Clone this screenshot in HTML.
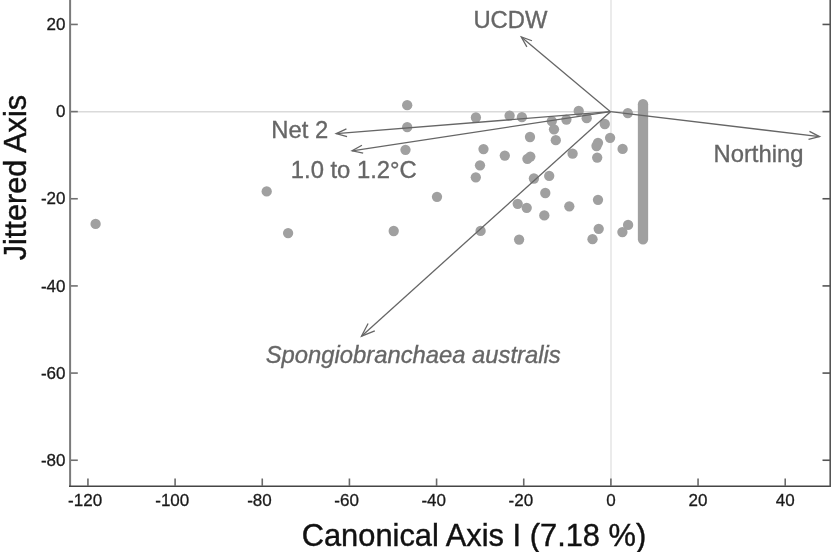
<!DOCTYPE html>
<html><head><meta charset="utf-8"><title>Plot</title>
<style>html,body{margin:0;padding:0;background:#fff;width:833px;height:552px;overflow:hidden}svg{display:block}</style>
</head><body>
<svg width="833" height="552" viewBox="0 0 833 552"><rect width="833" height="552" fill="#fff"/><line x1="71" y1="111.8" x2="829" y2="111.8" stroke="#dadada" stroke-width="1.5"/><line x1="611" y1="0" x2="611" y2="485" stroke="#e9e9e9" stroke-width="1.8"/><circle cx="95.6" cy="223.9" r="5.15" fill="#a0a0a0"/><circle cx="266.7" cy="191.4" r="5.15" fill="#a0a0a0"/><circle cx="288.1" cy="233.1" r="5.15" fill="#a0a0a0"/><circle cx="393.7" cy="231" r="5.15" fill="#a0a0a0"/><circle cx="407.2" cy="105.2" r="5.15" fill="#a0a0a0"/><circle cx="407.2" cy="127.2" r="5.15" fill="#a0a0a0"/><circle cx="405.5" cy="149.8" r="5.15" fill="#a0a0a0"/><circle cx="437" cy="196.8" r="5.15" fill="#a0a0a0"/><circle cx="475.9" cy="117.5" r="5.15" fill="#a0a0a0"/><circle cx="480" cy="165.3" r="5.15" fill="#a0a0a0"/><circle cx="475.8" cy="177.3" r="5.15" fill="#a0a0a0"/><circle cx="483.5" cy="149.1" r="5.15" fill="#a0a0a0"/><circle cx="480.6" cy="230.9" r="5.15" fill="#a0a0a0"/><circle cx="504.8" cy="155.6" r="5.15" fill="#a0a0a0"/><circle cx="509.6" cy="115.7" r="5.15" fill="#a0a0a0"/><circle cx="521.9" cy="117.2" r="5.15" fill="#a0a0a0"/><circle cx="530" cy="137" r="5.15" fill="#a0a0a0"/><circle cx="527.4" cy="158.8" r="5.15" fill="#a0a0a0"/><circle cx="530.3" cy="156.6" r="5.15" fill="#a0a0a0"/><circle cx="533.9" cy="178.5" r="5.15" fill="#a0a0a0"/><circle cx="517.7" cy="203.8" r="5.15" fill="#a0a0a0"/><circle cx="526.7" cy="207.8" r="5.15" fill="#a0a0a0"/><circle cx="519.1" cy="239.6" r="5.15" fill="#a0a0a0"/><circle cx="544.3" cy="215.4" r="5.15" fill="#a0a0a0"/><circle cx="545.3" cy="193" r="5.15" fill="#a0a0a0"/><circle cx="549.2" cy="175.9" r="5.15" fill="#a0a0a0"/><circle cx="551.8" cy="121.1" r="5.15" fill="#a0a0a0"/><circle cx="554" cy="129.3" r="5.15" fill="#a0a0a0"/><circle cx="555.8" cy="140.2" r="5.15" fill="#a0a0a0"/><circle cx="566.4" cy="119.6" r="5.15" fill="#a0a0a0"/><circle cx="572.6" cy="153.7" r="5.15" fill="#a0a0a0"/><circle cx="569.3" cy="206.3" r="5.15" fill="#a0a0a0"/><circle cx="578.7" cy="110.9" r="5.15" fill="#a0a0a0"/><circle cx="586.7" cy="118.2" r="5.15" fill="#a0a0a0"/><circle cx="598" cy="142.8" r="5.15" fill="#a0a0a0"/><circle cx="596.5" cy="146" r="5.15" fill="#a0a0a0"/><circle cx="597.2" cy="157.6" r="5.15" fill="#a0a0a0"/><circle cx="598" cy="199.8" r="5.15" fill="#a0a0a0"/><circle cx="598.7" cy="228.8" r="5.15" fill="#a0a0a0"/><circle cx="592.5" cy="239.2" r="5.15" fill="#a0a0a0"/><circle cx="604.8" cy="124" r="5.15" fill="#a0a0a0"/><circle cx="610.1" cy="137.8" r="5.15" fill="#a0a0a0"/><circle cx="622.6" cy="148.9" r="5.15" fill="#a0a0a0"/><circle cx="627.8" cy="113.1" r="5.15" fill="#a0a0a0"/><circle cx="628.1" cy="224.9" r="5.15" fill="#a0a0a0"/><circle cx="622.4" cy="232.1" r="5.15" fill="#a0a0a0"/><rect x="637.85" y="99" width="10.3" height="145.5" rx="5.15" ry="5.15" fill="#a0a0a0"/><line x1="610.5" y1="111.7" x2="521.3" y2="37" stroke="#666666" stroke-width="1.3"/><polyline points="526.87,46.83 521.3,37 531.96,40.76" fill="none" stroke="#666666" stroke-width="1.3"/><line x1="610.5" y1="111.7" x2="336.2" y2="133.6" stroke="#666666" stroke-width="1.3"/><polyline points="347.07,136.70 336.2,133.6 346.44,128.81" fill="none" stroke="#666666" stroke-width="1.3"/><line x1="610.5" y1="111.7" x2="352.1" y2="150.8" stroke="#666666" stroke-width="1.3"/><polyline points="363.16,153.13 352.1,150.8 361.97,145.30" fill="none" stroke="#666666" stroke-width="1.3"/><line x1="610.5" y1="111.7" x2="819.5" y2="136.6" stroke="#666666" stroke-width="1.3"/><polyline points="809.46,131.42 819.5,136.6 808.52,139.28" fill="none" stroke="#666666" stroke-width="1.3"/><line x1="610.5" y1="111.7" x2="361.5" y2="336.2" stroke="#666666" stroke-width="1.3"/><polyline points="374.80,330.95 361.5,336.2 368.09,323.51" fill="none" stroke="#666666" stroke-width="1.3"/><text x="473.4" y="28" style="font-family:'Liberation Sans',Arial,sans-serif;font-size:23.8px" fill="#666" stroke="#666" stroke-width="0.35">UCDW</text><text x="271.3" y="137.5" style="font-family:'Liberation Sans',Arial,sans-serif;font-size:23.8px" fill="#666" stroke="#666" stroke-width="0.35">Net 2</text><text x="290.8" y="178" style="font-family:'Liberation Sans',Arial,sans-serif;font-size:23.8px" fill="#666" stroke="#666" stroke-width="0.35">1.0 to 1.2°C</text><text x="713.5" y="162.4" style="font-family:'Liberation Sans',Arial,sans-serif;font-size:23.8px" fill="#666" stroke="#666" stroke-width="0.35">Northing</text><text x="265.7" y="363.2" style="font-family:'Liberation Sans',Arial,sans-serif;font-size:23.8px;font-style:italic" fill="#666" stroke="#666" stroke-width="0.35">Spongiobranchaea australis</text><line x1="70.1" y1="0" x2="70.1" y2="486" stroke="#7b7b7b" stroke-width="2"/><line x1="69" y1="486.3" x2="831" y2="486.3" stroke="#454545" stroke-width="1.6"/><line x1="830.2" y1="0" x2="830.2" y2="487" stroke="#555" stroke-width="1.6"/><line x1="87.94" y1="478.5" x2="87.94" y2="486" stroke="#6a6a6a" stroke-width="1.6"/><text x="85.11" y="506.2" text-anchor="middle" style="font-family:'Liberation Sans',Arial,sans-serif;font-size:17px" fill="#1a1a1a" stroke="#1a1a1a" stroke-width="0.3">-120</text><line x1="175.10" y1="478.5" x2="175.10" y2="486" stroke="#6a6a6a" stroke-width="1.6"/><text x="172.27" y="506.2" text-anchor="middle" style="font-family:'Liberation Sans',Arial,sans-serif;font-size:17px" fill="#1a1a1a" stroke="#1a1a1a" stroke-width="0.3">-100</text><line x1="262.26" y1="478.5" x2="262.26" y2="486" stroke="#6a6a6a" stroke-width="1.6"/><text x="259.43" y="506.2" text-anchor="middle" style="font-family:'Liberation Sans',Arial,sans-serif;font-size:17px" fill="#1a1a1a" stroke="#1a1a1a" stroke-width="0.3">-80</text><line x1="349.42" y1="478.5" x2="349.42" y2="486" stroke="#6a6a6a" stroke-width="1.6"/><text x="346.59" y="506.2" text-anchor="middle" style="font-family:'Liberation Sans',Arial,sans-serif;font-size:17px" fill="#1a1a1a" stroke="#1a1a1a" stroke-width="0.3">-60</text><line x1="436.58" y1="478.5" x2="436.58" y2="486" stroke="#6a6a6a" stroke-width="1.6"/><text x="433.75" y="506.2" text-anchor="middle" style="font-family:'Liberation Sans',Arial,sans-serif;font-size:17px" fill="#1a1a1a" stroke="#1a1a1a" stroke-width="0.3">-40</text><line x1="523.74" y1="478.5" x2="523.74" y2="486" stroke="#6a6a6a" stroke-width="1.6"/><text x="520.91" y="506.2" text-anchor="middle" style="font-family:'Liberation Sans',Arial,sans-serif;font-size:17px" fill="#1a1a1a" stroke="#1a1a1a" stroke-width="0.3">-20</text><line x1="610.90" y1="478.5" x2="610.90" y2="486" stroke="#6a6a6a" stroke-width="1.6"/><text x="610.90" y="506.2" text-anchor="middle" style="font-family:'Liberation Sans',Arial,sans-serif;font-size:17px" fill="#1a1a1a" stroke="#1a1a1a" stroke-width="0.3">0</text><line x1="698.06" y1="478.5" x2="698.06" y2="486" stroke="#6a6a6a" stroke-width="1.6"/><text x="698.06" y="506.2" text-anchor="middle" style="font-family:'Liberation Sans',Arial,sans-serif;font-size:17px" fill="#1a1a1a" stroke="#1a1a1a" stroke-width="0.3">20</text><line x1="785.22" y1="478.5" x2="785.22" y2="486" stroke="#6a6a6a" stroke-width="1.6"/><text x="785.22" y="506.2" text-anchor="middle" style="font-family:'Liberation Sans',Arial,sans-serif;font-size:17px" fill="#1a1a1a" stroke="#1a1a1a" stroke-width="0.3">40</text><line x1="71" y1="460.24" x2="77.8" y2="460.24" stroke="#707070" stroke-width="1.6"/><line x1="822.5" y1="460.24" x2="830" y2="460.24" stroke="#555" stroke-width="1.6"/><text x="65.5" y="465.84" text-anchor="end" style="font-family:'Liberation Sans',Arial,sans-serif;font-size:17px" fill="#1a1a1a" stroke="#1a1a1a" stroke-width="0.3">-80</text><line x1="71" y1="373.08" x2="77.8" y2="373.08" stroke="#707070" stroke-width="1.6"/><line x1="822.5" y1="373.08" x2="830" y2="373.08" stroke="#555" stroke-width="1.6"/><text x="65.5" y="378.68" text-anchor="end" style="font-family:'Liberation Sans',Arial,sans-serif;font-size:17px" fill="#1a1a1a" stroke="#1a1a1a" stroke-width="0.3">-60</text><line x1="71" y1="285.92" x2="77.8" y2="285.92" stroke="#707070" stroke-width="1.6"/><line x1="822.5" y1="285.92" x2="830" y2="285.92" stroke="#555" stroke-width="1.6"/><text x="65.5" y="291.52" text-anchor="end" style="font-family:'Liberation Sans',Arial,sans-serif;font-size:17px" fill="#1a1a1a" stroke="#1a1a1a" stroke-width="0.3">-40</text><line x1="71" y1="198.76" x2="77.8" y2="198.76" stroke="#707070" stroke-width="1.6"/><line x1="822.5" y1="198.76" x2="830" y2="198.76" stroke="#555" stroke-width="1.6"/><text x="65.5" y="204.36" text-anchor="end" style="font-family:'Liberation Sans',Arial,sans-serif;font-size:17px" fill="#1a1a1a" stroke="#1a1a1a" stroke-width="0.3">-20</text><line x1="71" y1="111.60" x2="77.8" y2="111.60" stroke="#707070" stroke-width="1.6"/><line x1="822.5" y1="111.60" x2="830" y2="111.60" stroke="#555" stroke-width="1.6"/><text x="65.5" y="117.20" text-anchor="end" style="font-family:'Liberation Sans',Arial,sans-serif;font-size:17px" fill="#1a1a1a" stroke="#1a1a1a" stroke-width="0.3">0</text><line x1="71" y1="24.44" x2="77.8" y2="24.44" stroke="#707070" stroke-width="1.6"/><line x1="822.5" y1="24.44" x2="830" y2="24.44" stroke="#555" stroke-width="1.6"/><text x="65.5" y="30.04" text-anchor="end" style="font-family:'Liberation Sans',Arial,sans-serif;font-size:17px" fill="#1a1a1a" stroke="#1a1a1a" stroke-width="0.3">20</text><text x="301.7" y="545.5" style="font-family:'Liberation Sans',Arial,sans-serif;font-size:30.85px" fill="#111" stroke="#111" stroke-width="0.4">Canonical Axis I (7.18 %)</text><text transform="translate(25.5,177.6) rotate(-90)" text-anchor="middle" style="font-family:'Liberation Sans',Arial,sans-serif;font-size:30.7px" fill="#111" stroke="#111" stroke-width="0.4">Jittered Axis</text></svg>
</body></html>
